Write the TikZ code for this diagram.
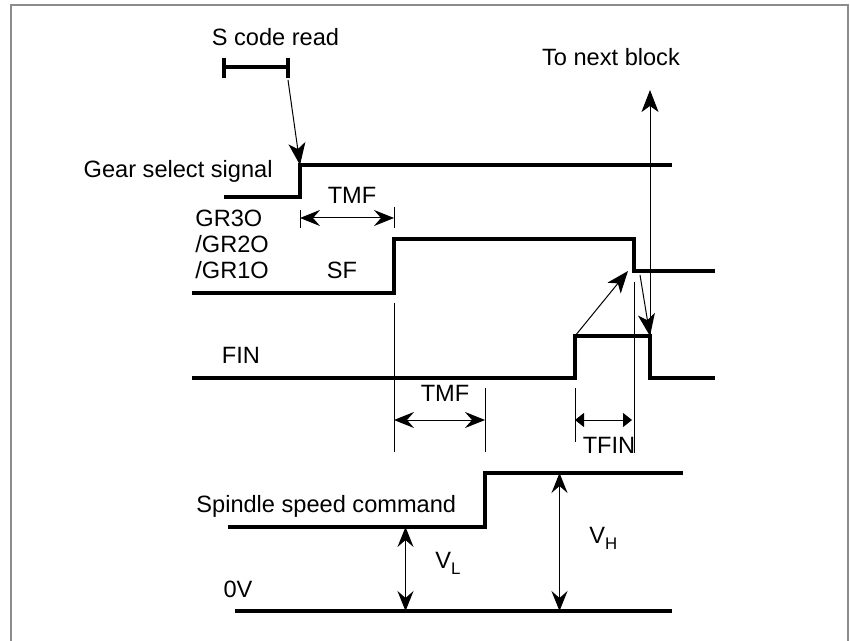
\documentclass[tikz,border=0pt]{standalone}
\usepackage{fontspec}
\setmainfont{Liberation Sans}
\usetikzlibrary{arrows.meta}
\newcommand{\lo}[1]{\raisebox{-3pt}{\fontsize{8.4}{10}\selectfont #1}}

\begin{document}
\begin{tikzpicture}[x=0.5pt,y=-0.5pt,
 sig/.style={line width=1.6pt,line join=miter},
 tk/.style={line width=0.5pt},
 a/.style={-{Stealth[length=11pt,width=8.5pt,inset=3pt]},line width=0.5pt},
 dm/.style={{Stealth[length=10pt,width=8pt,inset=3.5pt]}-{Stealth[length=10pt,width=8pt,inset=3.5pt]},line width=0.5pt},
 tt/.style={{Triangle[length=4.5pt,width=7pt]}-{Triangle[length=4.5pt,width=7pt]},line width=0.5pt},
 t/.style={font=\fontsize{11.8}{14}\selectfont,inner sep=0pt,anchor=base}]
 \useasboundingbox (0,0) rectangle (850,641);
 \draw[black!45,line width=1pt] (11,641) -- (11,5) -- (848,5) -- (848,641);
 \coordinate (brkL) at (224,67); \coordinate (brkR) at (288,67);
 \coordinate (gs0) at (300,197); \coordinate (gs1) at (300,165);
 \coordinate (gr0) at (394,293); \coordinate (gr1) at (394,239);
 \coordinate (gr2) at (634,239); \coordinate (gr3) at (634,271);
 \coordinate (fin0) at (575,378); \coordinate (fin1) at (575,336);
 \coordinate (fin2) at (650,336); \coordinate (fin3) at (650,378);
 \coordinate (sp0) at (485,527); \coordinate (sp1) at (485,473);
 \coordinate (up) at (650,90);
 \node[t] (scode) at (275.5,45.5) {S code read};
 \node[t] (next) at (611,66) {To next block};
 \node[t,anchor=base east] (gsel) at (273,178) {Gear select signal};
 \node[t] (tmf1) at (352,204) {TMF};
 \node[t,anchor=base west] (gr3o) at (195,227) {GR3O};
 \node[t,anchor=base west] (gr2o) at (195,253) {/GR2O};
 \node[t,anchor=base west] (gr1o) at (195,279) {/GR1O};
 \node[t] (sf) at (342,279) {SF};
 \node[t] (fin) at (241,364) {FIN};
 \node[t] (tmf2) at (445,401) {TMF};
 \node[t] (tfin) at (609,453) {TFIN};
 \node[t,anchor=base west] (spd) at (196,512) {Spindle speed command};
 \node[t] (zero) at (238,597) {0V};
 \node[t,anchor=base west] (vl) at (435,568) {V\lo{L}};
 \node[t,anchor=base west] (vh) at (589,543) {V\lo{H}};
 \draw[sig] (brkL) -- (brkR); \draw[sig] (224,58) -- (224,78); \draw[sig] (288,58) -- (288,78);
 \draw[sig] (224,197) -- (gs0) -- (gs1) -- (672,165);
 \draw[sig] (192,293) -- (gr0) -- (gr1) -- (gr2) -- (gr3) -- (715,271);
 \draw[sig] (192,378) -- (fin0) -- (fin1) -- (fin2) -- (fin3) -- (715,378);
 \draw[sig] (228,527) -- (sp0) -- (sp1) -- (683,473);
 \draw[sig] (235,611) -- (672,611);
 \draw[a] ([yshift=-6.5pt]brkR) -- (gs1);
 \draw[a] (fin1) -- ([xshift=-3pt]gr3);
 \draw[a] ([xshift=3pt,yshift=-2pt]gr3) -- (fin2);
 \draw[a] (fin2) -- (up);
 \draw[tk] (300,210) -- (300,228); \draw[tk] (394,207) -- (394,228);
 \draw[dm] (300,218) -- (394,218);
 \draw[tk] (394,303) -- (394,452); \draw[tk] (485,388) -- (485,452);
 \draw[dm] (394,420) -- (485,420);
 \draw[tk] (575,388) -- (575,442); \draw[tk] (634,282) -- (634,453);
 \draw[tt] (575,420) -- (632,420);
 \draw[dm] (405.5,527) -- (405.5,611);
 \draw[dm] (559.5,473) -- (559.5,611);
\end{tikzpicture}
\end{document}
